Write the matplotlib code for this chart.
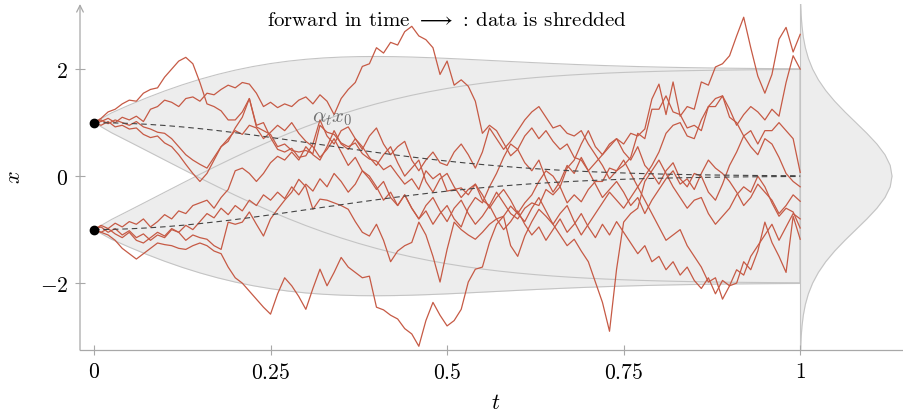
import numpy as np
import matplotlib
matplotlib.use("Agg")
import matplotlib.pyplot as plt

plt.rcParams['mathtext.fontset'] = 'cm'
plt.rcParams['font.family'] = ['cmr10', 'DejaVu Serif']
plt.rcParams['axes.formatter.use_mathtext'] = True

# ---------------- data ----------------
t_grid = np.linspace(0, 1, 101)          # simulation time grid (step 0.01)
x0_values = [1.0, -1.0]                  # the two data points

path_a = [1.00, 1.08, 1.20, 1.25, 1.35, 1.42, 1.40, 1.55, 1.62, 1.65,
          1.85, 2.00, 2.15, 2.22, 2.10, 1.75, 1.35, 1.30, 1.22, 1.05,
          1.05, 1.20, 1.45, 0.92, 0.85, 0.78, 0.55, 0.60, 0.48, 0.45,
          0.48, 0.42, 0.95, 0.82, 0.78, 0.62, 0.55, 0.62, 0.42, 0.32,
          0.28, 0.12, 0.20, 0.02, -0.15, -0.05, -0.25, 0.10, -0.05, 0.05,
          -0.28, -0.25, -0.22, -0.35, -0.15, -0.45, -0.55, -0.30, -0.50, -0.70,
          -0.80, -0.60, -0.50, -0.55, -0.25, -0.35, -0.20, -0.50, -0.35, -0.48,
          -0.25, -0.10, -0.10, 0.15, 0.10, 0.20, 0.35, 0.80, 0.70, 1.25,
          1.25, 1.50, 1.20, 1.15, 0.90, 0.95, 0.85, 1.30, 1.30, 1.50,
          1.10, 1.00, 0.75, 0.85, 0.60, 0.85, 0.85, 1.00, 0.85, 0.70,
          0.07]
path_b = [1.00, 1.02, 1.08, 1.00, 1.10, 1.05, 1.12, 1.02, 1.25, 1.30,
          1.42, 1.38, 1.30, 1.45, 1.48, 1.40, 1.55, 1.52, 1.62, 1.70,
          1.65, 1.75, 1.72, 1.55, 1.30, 1.38, 1.28, 1.35, 1.30, 1.42,
          1.48, 1.35, 1.52, 1.40, 1.15, 1.45, 1.62, 1.75, 2.05, 2.10,
          2.40, 2.30, 2.50, 2.45, 2.70, 2.80, 2.62, 2.55, 2.40, 1.90,
          2.15, 1.70, 1.80, 1.68, 1.40, 0.80, 0.95, 0.85, 0.62, 0.38,
          0.50, 0.25, 0.10, 0.30, -0.05, -0.30, -0.10, 0.20, 0.05, 0.35,
          0.10, -0.15, -0.40, -0.25, -0.10, -0.30, -0.55, -0.40, -0.70, -0.45,
          -0.25, -0.05, 0.10, -0.15, -0.05, -0.25, 0.05, 0.30, 0.15, 0.05,
          -0.10, -0.30, -0.55, -0.40, -0.15, -0.30, -0.45, -0.70, -0.55, -0.35,
          -0.47]
path_c = [1.00, 1.05, 0.98, 1.05, 1.00, 0.95, 1.02, 0.92, 0.88, 0.82,
          0.80, 0.70, 0.55, 0.40, 0.30, 0.22, 0.15, 0.35, 0.55, 0.70,
          0.85, 0.78, 0.95, 0.90, 0.70, 0.82, 0.95, 0.85, 1.00, 0.80,
          0.65, 0.55, 0.35, 0.50, 0.70, 0.45, 0.20, 0.35, 0.10, 0.00,
          -0.20, -0.45, -0.30, -0.55, -0.35, -0.60, -0.80, -0.65, -0.90, -0.70,
          -0.55, -0.80, -0.95, -0.60, -0.40, -0.50, -0.20, 0.05, 0.35, 0.60,
          0.50, 0.75, 0.90, 0.70, 0.85, 0.65, 0.50, 0.60, 0.35, 0.30,
          0.10, 0.25, 0.40, 0.55, 0.70, 0.60, 0.80, 0.75, 0.88, 1.44,
          1.72, 1.15, 1.76, 1.12, 1.30, 1.25, 1.76, 1.70, 2.04, 2.10,
          2.25, 2.62, 2.97, 2.40, 1.87, 1.55, 1.90, 2.56, 2.78, 2.32,
          2.65]
path_d = [1.00, 0.95, 1.02, 0.92, 0.95, 0.88, 0.90, 0.78, 0.72, 0.75,
          0.62, 0.55, 0.40, 0.22, 0.05, -0.10, 0.05, 0.30, 0.55, 0.65,
          0.90, 1.10, 1.45, 0.95, 1.00, 0.72, 0.50, 0.45, 0.52, 0.35,
          0.38, 0.60, 1.05, 0.75, 0.60, 0.85, 0.92, 0.70, 0.50, 0.75,
          0.90, 0.60, 0.40, 0.55, 0.65, 0.30, 0.10, 0.30, 0.45, 0.25,
          0.20, 0.45, 0.60, 0.40, 0.15, 0.45, 0.90, 0.70, 0.50, 0.65,
          0.85, 1.05, 1.20, 1.30, 1.10, 0.90, 0.95, 0.80, 0.75, 0.85,
          0.60, 0.40, 0.20, -0.05, 0.10, 0.30, 0.05, -0.20, 0.00, 0.20,
          0.45, 0.80, 0.95, 1.00, 0.75, 0.70, 1.05, 1.30, 1.45, 1.50,
          1.25, 0.95, 1.15, 1.30, 1.20, 1.05, 1.25, 1.12, 1.75, 2.25,
          2.00]
path_e = [-1.00, -1.05, -1.10, -1.20, -1.35, -1.45, -1.55, -1.45, -1.35, -1.25,
          -1.28, -1.30, -1.35, -1.37, -1.30, -1.25, -1.30, -1.40, -1.45, -1.70,
          -1.90, -2.00, -2.15, -2.30, -2.45, -2.58, -2.20, -1.90, -2.05, -2.25,
          -2.49, -2.10, -1.74, -2.05, -1.80, -1.52, -1.70, -1.80, -1.90, -1.87,
          -2.45, -2.50, -2.60, -2.67, -2.85, -2.95, -3.18, -2.70, -2.36, -2.60,
          -2.80, -2.70, -2.49, -1.98, -1.74, -1.70, -1.24, -0.90, -0.75, -0.56,
          -0.70, -0.85, -0.60, -0.40, -0.65, -0.90, -0.70, -0.55, -0.85, -1.10,
          -0.90, -0.70, -0.50, -0.30, -0.45, -0.60, -0.40, -0.20, -0.45, -0.70,
          -0.95, -1.20, -1.10, -1.00, -1.30, -1.50, -1.70, -1.98, -1.90, -2.30,
          -2.05, -2.00, -1.60, -1.75, -1.40, -0.86, -1.24, -1.50, -1.80, -0.75,
          -1.18]
path_f = [-1.00, -0.95, -1.05, -0.98, -1.10, -1.02, -1.15, -1.08, -1.20, -1.10,
          -1.15, -1.00, -1.05, -1.20, -1.10, -1.15, -1.18, -1.30, -1.37, -0.86,
          -0.90, -0.86, -0.67, -0.90, -1.12, -0.80, -0.62, -0.45, -0.30, -0.06,
          -0.20, -0.62, -0.43, -0.45, -0.50, -0.55, -0.62, -0.85, -1.05, -1.12,
          -0.90, -1.20, -1.60, -1.40, -1.30, -1.24, -0.86, -1.10, -1.50, -1.98,
          -1.37, -0.86, -1.00, -1.10, -1.18, -1.05, -0.90, -0.80, -0.75, -1.30,
          -1.50, -1.12, -0.85, -0.62, -0.75, -0.90, -1.10, -1.30, -1.18, -1.40,
          -1.60, -1.98, -2.36, -2.90, -1.74, -0.86, -0.70, -0.60, -0.10, 0.10,
          0.30, 0.05, -0.20, -0.40, -0.60, -0.45, -0.40, -0.70, -0.90, -0.75,
          -0.60, -0.35, -0.20, -0.30, 0.00, -0.20, -0.50, -0.75, -0.60, -0.67,
          -0.97]
path_g = [-1.00, -0.92, -0.98, -0.88, -0.95, -0.85, -0.90, -0.80, -0.95, -0.85,
          -0.72, -0.80, -0.65, -0.70, -0.55, -0.50, -0.45, -0.60, -0.40, -0.25,
          0.10, 0.15, 0.05, -0.10, 0.05, 0.25, 0.37, 0.30, 0.45, 0.30,
          0.55, 0.40, 0.30, 0.55, 0.85, 0.60, 0.50, 0.70, 0.55, 0.35,
          0.20, 0.40, 0.55, 0.25, 0.00, 0.15, 0.30, -0.10, -0.30, -0.05,
          0.05, -0.20, -0.40, -0.25, -0.15, -0.35, -0.60, -0.40, -0.25, -0.45,
          -0.70, -0.50, -0.35, -0.10, 0.10, 0.00, -0.20, 0.15, 0.30, 0.60,
          0.85, 0.55, 0.40, 0.60, 0.70, 0.45, 0.30, 0.55, 0.20, 0.05,
          -0.15, 0.10, 0.25, -0.05, -0.20, 0.05, 0.00, -0.30, -0.45, -0.15,
          0.20, 0.45, 0.75, 0.55, 0.40, 0.70, 0.60, 0.35, 0.05, -0.10,
          -0.20]
path_h = [-1.00, -1.05, -0.98, -1.08, -1.15, -1.05, -1.20, -1.25, -1.15, -1.05,
          -1.12, -0.98, -1.05, -0.92, -1.00, -0.85, -0.70, -0.78, -0.60, -0.72,
          -0.55, -0.65, -0.45, -0.55, -0.35, -0.45, -0.30, -0.42, -0.20, -0.35,
          -0.15, -0.28, -0.05, -0.20, 0.05, -0.10, -0.30, -0.15, 0.10, -0.05,
          -0.25, -0.10, -0.40, -0.55, -0.35, -0.60, -0.80, -0.55, -0.40, -0.65,
          -0.85, -0.60, -0.45, -0.70, -0.90, -0.75, -0.55, -0.80, -1.00, -0.85,
          -0.65, -0.90, -1.10, -0.95, -1.20, -1.00, -0.80, -1.05, -0.90, -0.70,
          -0.95, -1.15, -0.90, -1.10, -0.85, -1.05, -1.25, -1.45, -1.30, -1.60,
          -1.50, -1.75, -1.60, -1.85, -1.70, -1.95, -2.10, -1.90, -2.20, -1.95,
          -2.05, -1.75, -1.85, -1.50, -1.30, -1.10, -0.90, -1.20, -0.95, -0.70,
          -0.80]
paths = [path_a, path_b, path_c, path_d, path_e, path_f, path_g, path_h]

# noise schedule (signal scale alpha_t and noise scale sigma_t), t step 0.025
sched_t = np.linspace(0, 1, 41)
alpha_t = [1.0, 0.99565, 0.98517, 0.96876, 0.94672, 0.91944, 0.88742, 0.85120,
           0.81139, 0.76866, 0.72366, 0.67706, 0.62953, 0.58173, 0.53423, 0.48757,
           0.44221, 0.39858, 0.35703, 0.31784, 0.28117, 0.24723, 0.21601, 0.18760,
           0.16186, 0.13884, 0.11830, 0.10022, 0.08435, 0.07056, 0.05868, 0.04848,
           0.03981, 0.03248, 0.02634, 0.02122, 0.01700, 0.01353, 0.01070, 0.00841,
           0.00657]
sigma_t = [0.0, 0.0932, 0.1716, 0.2480, 0.3221, 0.3932, 0.4610, 0.5248,
           0.5845, 0.6397, 0.6902, 0.7359, 0.7770, 0.8134, 0.8453, 0.8731,
           0.8969, 0.9171, 0.9341, 0.9481, 0.9597, 0.9690, 0.9764, 0.9823,
           0.9868, 0.9903, 0.9930, 0.9950, 0.9964, 0.9975, 0.9983, 0.9988,
           0.9992, 0.9995, 0.9997, 0.9998, 0.9999, 0.9999, 0.9999, 1.0,
           1.0]

# marginal density at t = 1
dens_x = np.round(np.arange(-3.4, 3.41, 0.2), 2)
dens_p = [0.0012, 0.0024, 0.0044, 0.0079, 0.0136, 0.0224, 0.0355, 0.0540, 0.0790,
          0.1109, 0.1497, 0.1942, 0.2420, 0.2897, 0.3332, 0.3683, 0.3910, 0.3989,
          0.3910, 0.3683, 0.3332, 0.2897, 0.2420, 0.1942, 0.1497, 0.1109, 0.0790,
          0.0540, 0.0355, 0.0224, 0.0136, 0.0079, 0.0044, 0.0024, 0.0012]

x_ticks = [0, 0.25, 0.5, 0.75, 1]
x_tick_labels = ['$0$', '$0.25$', '$0.5$', '$0.75$', '$1$']
y_ticks = [-2, 0, 2]
y_tick_labels = ['$-2$', '$0$', '$2$']

# ---------------- style ----------------
RED = '#c65a45'
BAND = '#ededed'
BAND_EDGE = '#c4c4c4'
AXC = '#a8a8a8'

fig = plt.figure(figsize=(9.04, 4.14), dpi=100)
ax = fig.add_axes([80/904, 63/414, 824/904, 346/414])
ax.set_xlim(-0.0198, 1.147)
ax.set_ylim(-3.25, 3.217)

al = np.array(alpha_t)
sg = np.array(sigma_t)
for x0 in x0_values:
    upper = al * x0 + 2 * sg
    lower = al * x0 - 2 * sg
    ax.fill_between(sched_t, lower, upper, color=BAND, lw=0, zorder=1)
for x0 in x0_values:
    upper = al * x0 + 2 * sg
    lower = al * x0 - 2 * sg
    xs = np.concatenate([sched_t, sched_t[::-1]])
    ys = np.concatenate([upper, lower[::-1]])
    ax.plot(xs, ys, color=BAND_EDGE, lw=0.8, zorder=1.2)

# density at t=1
dp = np.array(dens_p) * 0.326
ax.fill_betweenx(dens_x, 1, 1 + dp, color=BAND, lw=0, zorder=1)
ax.plot(1 + dp, dens_x, color=BAND_EDGE, lw=0.8, zorder=1.2)
ax.plot([1, 1], [dens_x[0], dens_x[-1]], color=BAND_EDGE, lw=0.8, zorder=1.2)

for p in paths:
    ax.plot(t_grid, p, color=RED, lw=0.9, zorder=2)

for x0 in x0_values:
    ax.plot(sched_t, al * x0, color='#444444', lw=0.8, ls=(0, (5, 3.5)), zorder=3)
    ax.plot([0], [x0], 'o', color='black', ms=6, zorder=4)

ax.text(0.338, 1.08, r'$\alpha_t x_0$', color='#707070', fontsize=15,
        ha='center', va='center', zorder=5)
ax.text(0.5, 2.92, r'forward in time $\longrightarrow$ : data is shredded',
        fontsize=15, ha='center', va='center', zorder=5)

# axes
for s in ['top', 'right', 'left']:
    ax.spines[s].set_visible(False)
ax.spines['bottom'].set_color(AXC)
ax.spines['bottom'].set_linewidth(0.9)
ax.annotate('', xy=(0, 1), xytext=(0, 0), xycoords='axes fraction',
            arrowprops=dict(arrowstyle='->', color=AXC, lw=0.9,
                            shrinkA=0, shrinkB=0, mutation_scale=12))
ax.set_xticks(x_ticks)
ax.set_xticklabels(x_tick_labels)
ax.set_yticks(y_ticks)
ax.set_yticklabels(y_tick_labels)
ax.tick_params(axis='both', direction='inout', length=7, width=0.8,
               color=AXC, labelsize=15.5, pad=5)
ax.set_facecolor('none')

fig.text(496/904, 1 - 403/414, '$t$', fontsize=16, ha='center', va='center')
fig.text(14/904, 1 - 177/414, '$x$', fontsize=16, ha='center', va='center',
         rotation=90)

fig.savefig('out.png', dpi=100)
